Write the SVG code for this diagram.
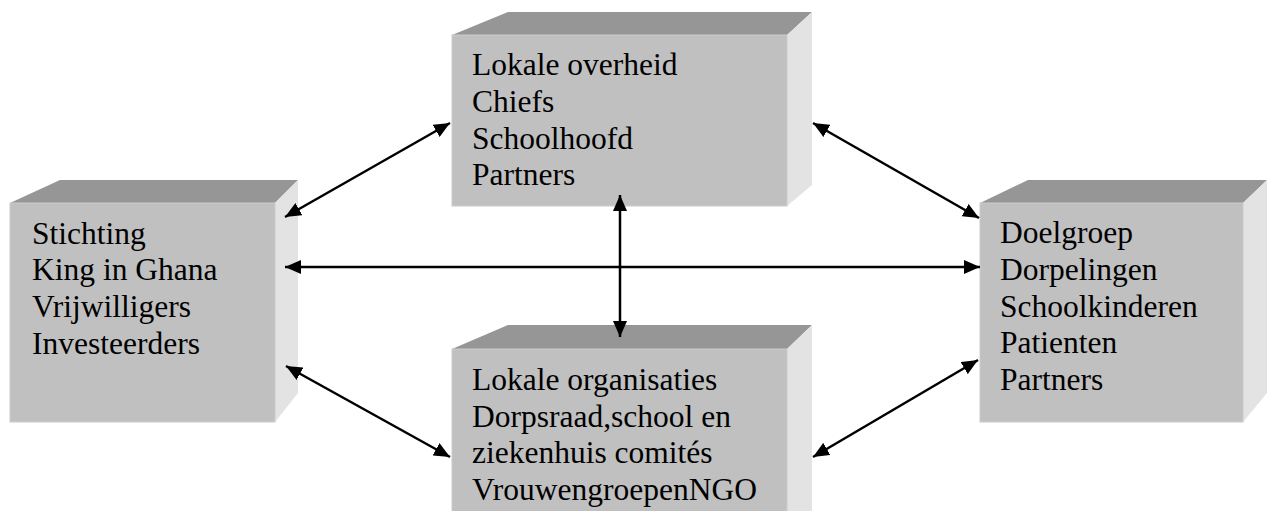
<svg xmlns="http://www.w3.org/2000/svg" width="1267" height="511" viewBox="0 0 1267 511">
<style>
.front{fill:#c0c0c0;stroke:#cccccc;stroke-width:1}
.top{fill:#969696}
.side{fill:#e3e3e3}
text{font-family:"Liberation Serif","Times New Roman",serif;font-size:31.5px;fill:#000}
.conn{stroke:#000;stroke-width:2.5;fill:none;marker-start:url(#ah);marker-end:url(#ah)}
</style>
<defs>
<marker id="ah" viewBox="0 0 16 14" refX="16" refY="7" markerWidth="16" markerHeight="14" markerUnits="userSpaceOnUse" orient="auto-start-reverse">
<path d="M0,0 L16,7 L0,14 z" fill="#000"/>
</marker>
</defs>
<rect width="1267" height="511" fill="#fff"/>
<g id="node-stichting">
<polygon class="top" points="10,203 60,180 298,180 275,203"/>
<polygon class="side" points="275,203 298,180 298,393 275,422"/>
<rect class="front" x="10" y="203" width="265" height="219"/>
<text x="32" y="244">Stichting</text>
<text x="32" y="280">King in Ghana</text>
<text x="32" y="317">Vrijwilligers</text>
<text x="32" y="354">Investeerders</text>
</g>
<g id="node-overheid">
<polygon class="top" points="452,35 508,12 812,12 787,35"/>
<polygon class="side" points="787,35 812,12 812,185 787,206"/>
<rect class="front" x="452" y="35" width="335" height="171"/>
<text x="472" y="75">Lokale overheid</text>
<text x="472" y="112">Chiefs</text>
<text x="472" y="149">Schoolhoofd</text>
<text x="472" y="185">Partners</text>
</g>
<g id="node-organisaties">
<polygon class="top" points="452,349 508,325 812,325 787,349"/>
<polygon class="side" points="787,349 812,325 812,511 787,511"/>
<rect class="front" x="452" y="349" width="335" height="170"/>
<text x="472" y="390">Lokale organisaties</text>
<text x="472" y="427">Dorpsraad,school en</text>
<text x="472" y="463">ziekenhuis comités</text>
<text x="472" y="500">VrouwengroepenNGO</text>
</g>
<g id="node-doelgroep">
<polygon class="top" points="980,203 1028,180 1267,180 1243,203"/>
<polygon class="side" points="1243,203 1267,180 1267,393 1243,422"/>
<rect class="front" x="980" y="203" width="263" height="219"/>
<text x="1000" y="243">Doelgroep</text>
<text x="1000" y="280">Dorpelingen</text>
<text x="1000" y="317">Schoolkinderen</text>
<text x="1000" y="353">Patienten</text>
<text x="1000" y="390">Partners</text>
</g>
<g id="connectors">
<line class="conn" x1="285" y1="217" x2="450" y2="123"/>
<line class="conn" x1="285" y1="267" x2="980" y2="267"/>
<line class="conn" x1="620" y1="195" x2="620" y2="337"/>
<line class="conn" x1="813" y1="123" x2="979" y2="218"/>
<line class="conn" x1="286" y1="366" x2="450" y2="457"/>
<line class="conn" x1="813" y1="457" x2="978" y2="360"/>
</g>
</svg>
